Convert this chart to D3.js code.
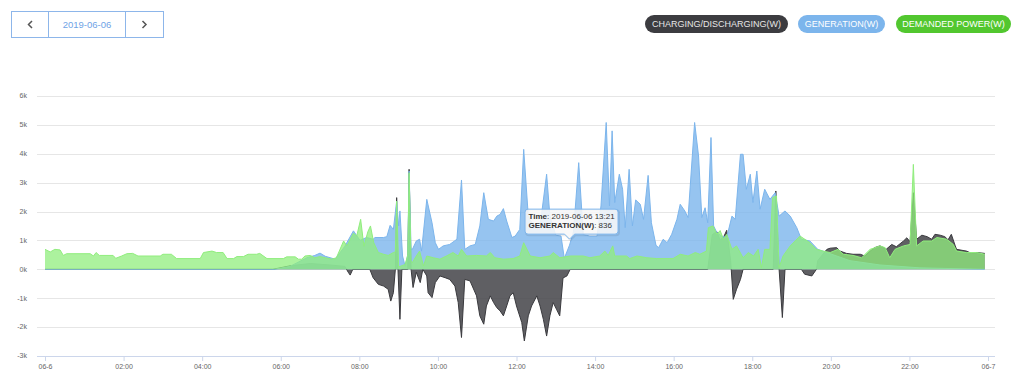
<!DOCTYPE html>
<html>
<head>
<meta charset="utf-8">
<script src="https://cdn.jsdelivr.net/npm/d3@7"></script>
<style>
  html, body { margin: 0; padding: 0; background: #fff; }
  svg { display: block; font-family: "Liberation Sans", Arial, Helvetica, sans-serif; }
</style>
</head>
<body>
<svg id="chart" width="1024" height="386"></svg>
<script>
// ---------------- DATA ----------------
const chartDate = "2019-06-06";
const legendLabels = ["CHARGING/DISCHARGING(W)", "GENERATION(W)", "DEMANDED POWER(W)"];
const xTickLabels = ["06-6","02:00","04:00","06:00","08:00","10:00","12:00","14:00","16:00","18:00","20:00","22:00","06-7"];
const xTickHours = [0,2,4,6,8,10,12,14,16,18,20,22,24];
const yTickValues = [-3000,-2000,-1000,0,1000,2000,3000,4000,5000,6000];
const yTickLabels = ["-3k","-2k","-1k","0k","1k","2k","3k","4k","5k","6k"];

const demandTimes = [
  "00:00","00:08","00:15","00:23","00:28","00:33","01:09","01:14","01:18","01:23",
  "01:44","01:48","01:57","02:05","02:14","02:22","02:56","03:00","03:13","03:21",
  "03:57","04:02","04:15","04:22","04:32","04:38","04:48","04:53","05:03","05:10",
  "05:23","05:28","05:39","06:04","06:09","06:22","06:27","06:32","06:37","06:45",
  "06:52","07:00","07:08","07:18","07:25","07:36","07:41","07:51","07:56","08:02",
  "08:07","08:13","08:17","08:22","08:29","08:37","08:44","08:52","08:55","08:57",
  "09:00","09:10","09:14","09:16","09:19","09:21","09:27","09:32","09:38","09:43",
  "09:53","10:03","10:13","10:23","10:31","10:36","10:44","10:59","11:14","11:20",
  "11:27","11:40","11:55","12:05","12:11","12:21","12:36","12:51","12:56","13:06",
  "13:22","13:42","13:52","14:07","14:15","14:20","14:27","14:30","14:48","14:53",
  "15:04","15:19","15:34","15:59","16:10","16:22","16:33","16:40","16:50","16:53",
  "17:00","17:06","17:11","17:16","17:21","17:29","17:36","17:46","17:54","18:02",
  "18:09","18:14","18:19","18:27","18:31","18:37","18:41","18:47","18:58","19:13",
  "19:28","19:38","19:48","19:59","20:11","20:19","20:34","20:47","21:00","21:15",
  "21:23","21:30","21:38","21:51","22:01","22:06","22:11","22:21","22:34","22:42",
  "22:57","23:07","23:12","23:27","23:43","23:55"
];
const demandValues = [
  690,600,690,670,480,540,540,460,580,480,
  480,380,460,540,550,460,460,520,520,370,
  370,580,630,580,580,370,370,440,440,520,
  520,550,370,370,430,430,350,350,460,480,
  400,440,400,350,400,980,810,1250,1150,1730,
  800,1300,1500,920,580,520,480,580,600,2360,
  80,170,500,3340,300,230,460,630,115,460,
  400,350,460,580,460,690,460,480,460,580,
  400,350,370,460,920,460,400,460,580,400,
  460,460,400,460,630,480,810,460,460,370,
  460,400,370,370,520,460,580,520,630,1440,
  1500,1210,1340,1040,1210,690,810,400,580,460,
  690,60,690,690,2480,2540,60,460,810,1150,
  920,690,630,580,690,520,480,400,690,810,
  750,400,690,810,860,3630,810,980,980,1100,
  1040,860,630,580,580,520
];

const genTimes = [
  "00:00","05:51","06:14","06:40","06:52","07:00","07:08","07:23","07:38","07:51",
  "08:01","08:11","08:21","08:24","08:37","08:42","08:47","08:52","08:57","09:00",
  "09:02","09:06","09:10","09:14","09:16","09:19","09:21","09:27","09:32","09:35",
  "09:43","09:51","09:56","10:01","10:08","10:18","10:29","10:36","10:41","10:49",
  "10:57","11:04","11:10","11:17","11:25","11:30","11:35","11:40","11:45","11:53",
  "11:58","12:05","12:11","12:18","12:26","12:36","12:46","12:51","13:00","13:08",
  "13:13","13:21","13:27","13:35","13:42","13:52","14:03","14:09","14:17","14:22",
  "14:26","14:30","14:37","14:42","14:46","14:52","14:57","15:02","15:09","15:14",
  "15:21","15:26","15:33","15:37","15:44","15:50","15:57","16:05","16:10","16:17",
  "16:22","16:32","16:38","16:43","16:48","16:52","16:57","17:01","17:06","17:13",
  "17:21","17:29","17:34","17:42","17:46","17:51","17:57","18:01","18:07","18:12",
  "18:19","18:27","18:35","18:41","18:50","18:58","19:08","19:15","19:28","19:40",
  "19:54","20:29","21:15","22:16","23:55"
];
const genValues = [
  0,0,100,400,480,560,450,350,800,1330,
  1000,1100,1040,1100,1100,1130,1520,1380,2360,1500,
  2020,460,100,500,3400,700,690,980,1040,630,
  2420,1610,920,690,810,860,1040,3090,690,810,
  860,1500,2650,1730,1670,1840,1900,2100,1670,1100,
  1150,1380,4150,1840,1500,1500,3290,1840,1180,1150,
  380,836,1300,3690,1200,1150,1150,2190,5080,2190,
  4790,2310,3290,2770,1440,3460,1500,2400,2250,1730,
  3250,1610,830,750,1040,920,1210,1730,2250,2020,
  1790,5080,3920,1790,2130,1610,4560,1500,1270,1150,
  1100,1840,1730,3980,3980,2770,3290,2310,3400,2080,
  2770,2420,2650,1840,2020,1840,1440,1040,980,690,
  580,300,150,50,0
];

const chargeTimes = [
  "00:00","05:48","06:14","06:45","07:15","07:38","07:43","07:46","07:50","08:16",
  "08:21","08:29","08:37","08:44","08:48","08:52","08:55","08:57","08:59","09:02",
  "09:05","09:14","09:16","09:19","09:22","09:27","09:33","09:37","09:43","09:45",
  "09:51","09:56","10:03","10:11","10:18","10:26","10:31","10:36","10:41","10:49",
  "10:59","11:04","11:10","11:14","11:20","11:25","11:30","11:35","11:40","11:45",
  "11:50","11:55","12:00","12:08","12:12","12:18","12:23","12:31","12:36","12:41",
  "12:46","12:51","12:56","13:01","13:06","13:11","13:17","13:22","16:52","16:59",
  "17:06","17:11","17:17","17:21","17:27","17:31","17:36","17:42","17:46","18:32",
  "18:36","18:41","18:46","18:50","19:15","19:20","19:31","19:38","19:40","19:54",
  "19:59","20:09","20:14","20:24","20:34","20:45","20:52","21:00","21:07","21:15",
  "21:25","21:33","21:40","21:51","21:56","22:01","22:06","22:11","22:19","22:27",
  "22:34","22:39","22:47","22:54","22:59","23:04","23:10","23:12","23:27","23:35",
  "23:43","23:55"
];
const chargeValues = [
  0,0,120,200,150,100,-100,-200,0,0,
  -290,-520,-580,-690,-1100,-810,0,2480,0,-1730,
  0,0,3460,0,-630,-100,-460,0,-230,-810,
  -980,-460,-230,-290,-350,-580,-1150,-2360,-350,-400,
  -920,-1610,-1900,-1270,-920,-1150,-1330,-1440,-1610,-1270,
  -920,-810,-1270,-1840,-2480,-1610,-1270,-920,-1270,-1730,
  -2310,-1610,-1150,-1380,-1610,-300,-230,0,0,1200,
  1300,1000,1150,1350,300,-1040,-690,-350,0,0,
  2710,0,-1670,0,0,-170,-230,0,300,690,
  730,750,630,550,520,520,460,630,750,810,
  700,860,780,980,1090,950,2650,1040,1180,1130,
  1040,1210,1180,1130,1020,1210,810,690,630,550,
  580,550
];

const tooltipTime = "13:21";

// ---------------- DRAW ----------------
const svg = d3.select("#chart");
const parseT = d3.timeParse("%Y-%m-%d %H:%M");
const dayStart = parseT(chartDate + " 00:00");
const toDate = t => parseT(chartDate + " " + t);
const hourDate = h => new Date(dayStart.getTime() + h * 3600000);

const x = d3.scaleTime().domain([hourDate(0), hourDate(24)]).range([45, 988]);
const y = d3.scaleLinear().domain([-3000, 6000]).range([356, 95.9]);
const plotLeft = 37, plotRight = 995;

// grid
svg.append("g").selectAll("line").data(yTickValues.filter(v => v > -3000)).join("line")
  .attr("x1", plotLeft).attr("x2", plotRight)
  .attr("y1", d => Math.round(y(d)) + 0.5).attr("y2", d => Math.round(y(d)) + 0.5)
  .attr("stroke", "#e6e6e6").attr("stroke-width", 1);

// y labels
svg.append("g").selectAll("text").data(yTickValues).join("text")
  .attr("x", 27).attr("y", d => y(d)).attr("dy", "0.34em")
  .attr("text-anchor", "end").attr("font-size", 7).attr("fill", "#666")
  .text((d, i) => yTickLabels[i]);

// series
const series = [
  { times: chargeTimes, values: chargeValues, color: "#434348", opacity: 0.85, line: "#3a3a3e" },
  { times: genTimes, values: genValues, color: "#7cb5ec", opacity: 0.8, line: "#7cb5ec" },
  { times: demandTimes, values: demandValues, color: "#90ed7d", opacity: 0.75, line: "#90ed7d" }
];

const defs = svg.append("defs");
defs.append("clipPath").attr("id", "plotClip").append("rect")
  .attr("x", plotLeft).attr("y", 60).attr("width", plotRight - plotLeft).attr("height", 296);

const gSeries = svg.append("g").attr("clip-path", "url(#plotClip)");
series.forEach(s => {
  const pts = s.times.map((t, i) => ({ d: toDate(t), v: s.values[i] }));
  const area = d3.area().x(p => x(p.d)).y0(y(0)).y1(p => y(p.v));
  const line = d3.line().x(p => x(p.d)).y(p => y(p.v));
  gSeries.append("path").datum(pts).attr("d", area)
    .attr("fill", s.color).attr("fill-opacity", s.opacity);
  gSeries.append("path").datum(pts).attr("d", line)
    .attr("fill", "none").attr("stroke", s.line).attr("stroke-width", 1)
    .attr("stroke-linejoin", "round");
});

// x axis
const xAxis = d3.axisBottom(x)
  .tickValues(xTickHours.map(hourDate))
  .tickFormat((d, i) => xTickLabels[i])
  .tickSize(5).tickPadding(3);
const gx = svg.append("g").attr("transform", "translate(0,356)").call(xAxis);
gx.select(".domain").remove();
gx.selectAll(".tick line").attr("stroke", "#ccd6eb");
gx.selectAll(".tick text").attr("font-size", 7).attr("fill", "#666")
  .attr("font-family", "Liberation Sans, Arial, sans-serif");
svg.append("line").attr("x1", plotLeft).attr("x2", plotRight)
  .attr("y1", 356.5).attr("y2", 356.5).attr("stroke", "#ccd6eb").attr("stroke-width", 1);

// tooltip
const ti = genTimes.indexOf(tooltipTime);
const tipX = x(toDate(tooltipTime));
const tipY = y(genValues[ti]) - 6;
const bw = 93, bh = 25, r = 3, aw = 5;
const bx = tipX - 44.5, by = tipY - 5 - bh;
const bb = by + bh;
const tpath = [
  `M${bx + r},${by}`, `L${bx + bw - r},${by}`, `Q${bx + bw},${by} ${bx + bw},${by + r}`,
  `L${bx + bw},${bb - r}`, `Q${bx + bw},${bb} ${bx + bw - r},${bb}`,
  `L${tipX + aw},${bb}`, `L${tipX},${tipY}`, `L${tipX - aw},${bb}`,
  `L${bx + r},${bb}`, `Q${bx},${bb} ${bx},${bb - r}`,
  `L${bx},${by + r}`, `Q${bx},${by} ${bx + r},${by}`, "Z"
].join(" ");
const gt = svg.append("g");
gt.append("path").attr("d", tpath).attr("transform", "translate(1,1)")
  .attr("fill", "none").attr("stroke", "rgba(0,0,0,0.08)").attr("stroke-width", 2);
gt.append("path").attr("d", tpath)
  .attr("fill", "rgba(247,247,247,0.88)").attr("stroke", "#7cb5ec").attr("stroke-width", 1);
const t1 = gt.append("text").attr("x", bx + 3.5).attr("y", by + 10).attr("font-size", 8).attr("fill", "#333");
t1.append("tspan").attr("font-weight", "bold").text("Time");
t1.append("tspan").text(": " + chartDate + " " + tooltipTime);
const t2 = gt.append("text").attr("x", bx + 3.5).attr("y", by + 18.5).attr("font-size", 8).attr("fill", "#333");
t2.append("tspan").attr("font-weight", "bold").text(legendLabels[1]);
t2.append("tspan").text(": " + genValues[ti]);

// legend pills
const pills = [
  { label: legendLabels[0], x: 645, w: 143, fill: "#3c3c40", text: "#e6e6e6" },
  { label: legendLabels[1], x: 798, w: 87, fill: "#7cb5ec", text: "#ffffff" },
  { label: legendLabels[2], x: 896, w: 115, fill: "#52c72f", text: "#ffffff" }
];
const gl = svg.append("g");
pills.forEach(p => {
  gl.append("rect").attr("x", p.x).attr("y", 15).attr("width", p.w).attr("height", 18)
    .attr("rx", 9).attr("fill", p.fill);
  gl.append("text").attr("x", p.x + p.w / 2).attr("y", 27.2).attr("text-anchor", "middle")
    .attr("font-size", 9).attr("fill", p.text).text(p.label);
});

// date navigator
const gn = svg.append("g");
gn.append("rect").attr("x", 11.5).attr("y", 11.5).attr("width", 152).attr("height", 26)
  .attr("fill", "#fff").attr("stroke", "#8db6ea").attr("stroke-width", 1);
[48.5, 125.5].forEach(lx => gn.append("line").attr("x1", lx).attr("x2", lx)
  .attr("y1", 11.5).attr("y2", 37.5).attr("stroke", "#8db6ea"));
gn.append("text").attr("x", 87).attr("y", 27.8).attr("text-anchor", "middle")
  .attr("font-size", 9.5).attr("fill", "#6fa3e6").text(chartDate);
gn.append("path").attr("d", "M32,21 L28.5,24.5 L32,28").attr("fill", "none")
  .attr("stroke", "#555").attr("stroke-width", 1.5);
gn.append("path").attr("d", "M142.5,21 L146,24.5 L142.5,28").attr("fill", "none")
  .attr("stroke", "#555").attr("stroke-width", 1.5);
</script>
</body>
</html>
